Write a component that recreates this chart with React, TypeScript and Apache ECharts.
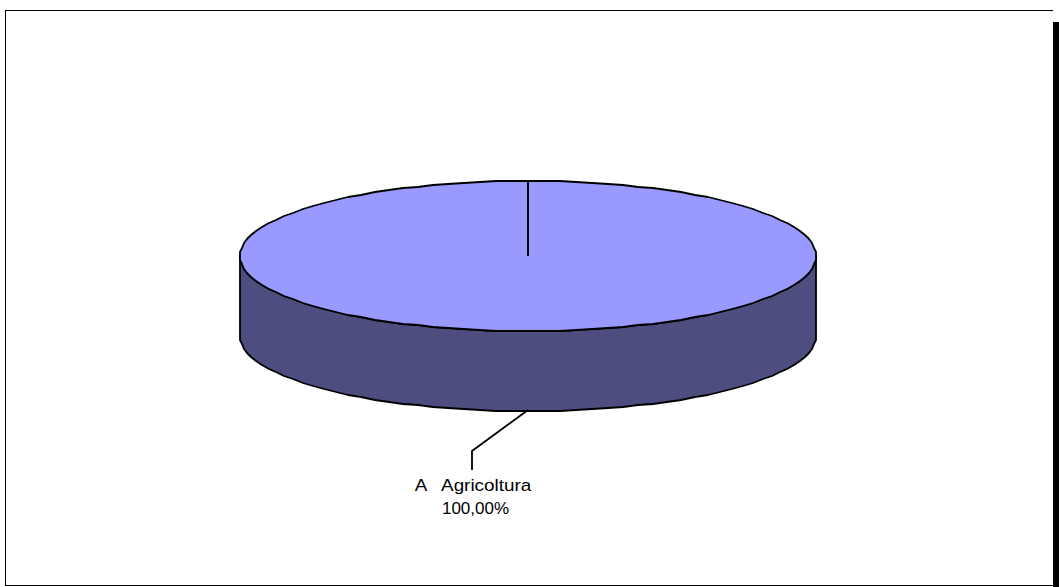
import React, { useEffect, useRef } from "react";
import * as echarts from "echarts";

const categories = ["A   Agricoltura"];
const values = [100];
const valueLabels = ["100,00%"];

const WIDTH = 1059;
const HEIGHT = 587;
const TOP_COLOR = "#9999ff";
const SIDE_COLOR = "#4d4d80";
const LINE = "#000000";
const FONT = '17px "Liberation Sans", Arial, sans-serif';

const CX = 528;
const CY = 256;
const RX = 288;
const RY = 75;
const DEPTH = 80;
const STEPS = 112;

function arcPoints(cy: number, fromDeg: number, toDeg: number, steps: number) {
  const pts: number[][] = [];
  for (let i = 0; i <= steps; i++) {
    const a = ((fromDeg + ((toDeg - fromDeg) * i) / steps) * Math.PI) / 180;
    pts.push([Math.round(CX + RX * Math.cos(a)), Math.round(cy + RY * Math.sin(a))]);
  }
  return pts;
}

function renderItem(params: any, api: any) {
  const total = values.reduce((a, b) => a + b, 0);
  const sweep = (api.value(0) / total) * 360;
  const start = -90;
  const top = arcPoints(CY, start, start + sweep, STEPS);
  const front = arcPoints(CY, 180, 0, STEPS / 2);
  const frontLow = arcPoints(CY + DEPTH, 0, 180, STEPS / 2);
  const edge = top[0];
  return {
    type: "group",
    children: [
      {
        type: "polygon",
        shape: { points: [...front, ...frontLow] },
        style: { fill: SIDE_COLOR, stroke: LINE, lineWidth: 1.8, lineJoin: "round" },
      },
      {
        type: "polygon",
        shape: { points: top },
        style: { fill: TOP_COLOR, stroke: LINE, lineWidth: 1.8, lineJoin: "round" },
      },
      {
        type: "line",
        shape: { x1: edge[0], y1: edge[1], x2: CX, y2: CY },
        style: { stroke: LINE, lineWidth: 2 },
      },
      {
        type: "polyline",
        shape: { points: [[CX, 410], [472, 451], [472, 470]] },
        style: { stroke: LINE, lineWidth: 1.8, fill: "none" },
      },
      {
        type: "text",
        x: 473,
        y: 485,
        scaleX: 1.11,
        style: {
          text: categories[params.dataIndex],
          fill: "#000000",
          font: FONT,
          align: "center",
          verticalAlign: "middle",
        },
      },
      {
        type: "text",
        x: 475.5,
        y: 508,
        style: {
          text: valueLabels[params.dataIndex],
          fill: "#000000",
          font: FONT,
          align: "center",
          verticalAlign: "middle",
        },
      },
    ],
  };
}

export default function App() {
  const ref = useRef<HTMLDivElement>(null);
  useEffect(() => {
    document.body.style.margin = "0";
    document.body.style.background = "#ffffff";
    const chart = echarts.init(ref.current!, null, { renderer: "svg" });
    chart.setOption({
      animation: false,
      backgroundColor: "#ffffff",
      graphic: [
        { type: "line", shape: { x1: 5.5, y1: 10, x2: 5.5, y2: 586 }, style: { stroke: LINE, lineWidth: 1 } },
        { type: "line", shape: { x1: 5, y1: 10.5, x2: 1053, y2: 10.5 }, style: { stroke: LINE, lineWidth: 1 } },
        { type: "line", shape: { x1: 5, y1: 585.5, x2: 1053, y2: 585.5 }, style: { stroke: LINE, lineWidth: 1 } },
        { type: "rect", shape: { x: 1053, y: 22, width: 6, height: 565 }, style: { fill: LINE } },
      ],
      series: [
        {
          type: "custom",
          coordinateSystem: "none",
          silent: true,
          renderItem,
          data: values.map((v) => [v]),
        },
      ],
    });
    return () => chart.dispose();
  }, []);
  return <div ref={ref} style={{ position: "absolute", left: 0, top: 0, width: WIDTH, height: HEIGHT }} />;
}
